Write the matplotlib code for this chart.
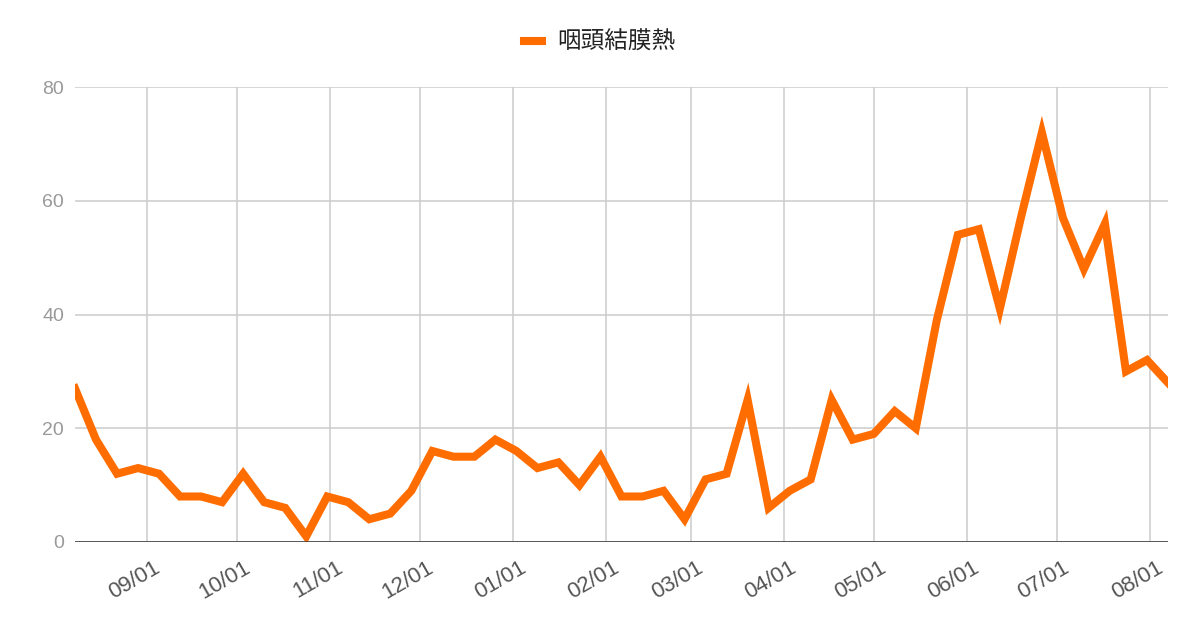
import numpy as np
import pandas as pd
import matplotlib
matplotlib.use("Agg")
import matplotlib.pyplot as plt
import matplotlib.dates as mdates
from matplotlib.transforms import ScaledTranslation

plt.rcParams['font.family'] = ['Liberation Sans', 'Noto Sans CJK JP', 'DejaVu Sans']

# weekly reports, 2022-08-08 .. 2023-08-07
weeks = pd.date_range("2022-08-08", periods=53, freq="7D")
cases = [27, 18, 12, 13, 12, 8, 8, 7, 12, 7,
         6, 1, 8, 7, 4, 5, 9, 16, 15, 15,
         18, 16, 13, 14, 10, 15, 8, 8, 9, 4,
         11, 12, 25, 6, 9, 11, 25, 18, 19, 23,
         20, 39, 54, 55, 41, 57, 72, 57, 48, 56,
         30, 32, 28]
series_name = "咽頭結膜熱"
y_ticks = [0, 20, 40, 60, 80]

fig = plt.figure(figsize=(12, 6.26), dpi=100)
ax = fig.add_axes([75 / 1200, 1 - 542 / 626, (1168 - 75) / 1200, (542 - 87) / 626])

ax.plot(weeks, cases, color="#ff6d00", lw=5.8, solid_joinstyle="miter",
        label=series_name, zorder=3)

ax.set_xlim(weeks[0], weeks[-1])
ax.set_ylim(0, 80)
ax.set_yticks(y_ticks)
ax.xaxis.set_major_locator(mdates.MonthLocator())
ax.xaxis.set_major_formatter(mdates.DateFormatter("%m/%d"))

ax.grid(True, color="#cccccc", lw=1.1, zorder=0)
ax.axhline(0, color="#333333", lw=1.8, zorder=4)
for s in ax.spines.values():
    s.set_visible(False)

ax.tick_params(axis="both", length=0)
ax.tick_params(axis="y", labelsize=14, labelcolor="#999999", pad=8)
ax.tick_params(axis="x", labelsize=16, labelcolor="#555555", pad=11)
off = ScaledTranslation(6 / 100, 0, fig.dpi_scale_trans)
for lab in ax.get_xticklabels():
    lab.set_rotation(30)
    lab.set_ha("right")
    lab.set_va("top")
    lab.set_rotation_mode("anchor")
    lab.set_transform(lab.get_transform() + off)

fig.legend(loc="center", bbox_to_anchor=(0.5, 1 - 43 / 626), frameon=False,
           fontsize=17, handlelength=0.75, handletextpad=0.65,
           labelcolor="#222222")

fig.savefig("out.png", dpi=100, facecolor="white")
